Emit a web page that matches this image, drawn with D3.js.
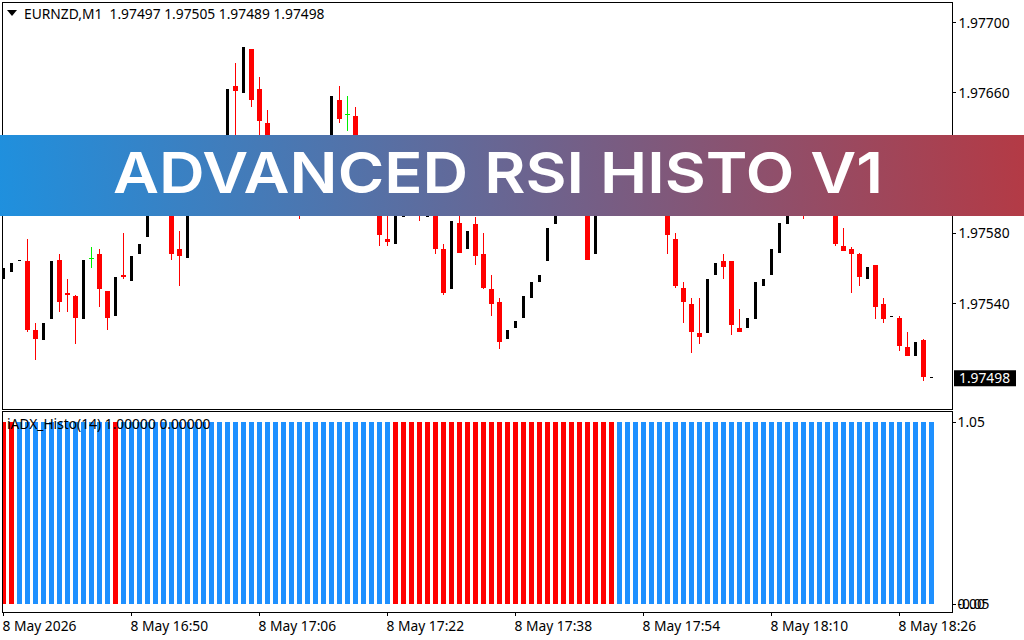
<!DOCTYPE html>
<html>
<head>
<meta charset="utf-8">
<script src="https://d3js.org/d3.v7.min.js"></script>
<style>
html, body { margin: 0; padding: 0; background: #fff; overflow: hidden; }
svg { display: block; }
text { font-family: "Noto Sans", sans-serif; font-size: 13.8px; fill: #000; }
.frame { fill: none; stroke: #000; stroke-width: 1; shape-rendering: crispEdges; }
.axis path { display: none; }
.axis line { stroke: #000; shape-rendering: crispEdges; }
</style>
</head>
<body>
<script>
var title = "ADVANCED RSI HISTO V1";
var header = "EURNZD,M1  1.97497 1.97505 1.97489 1.97498";
var histoName = "iADX_Histo(14) 1.00000 0.00000";
var lastPrice = 1.97498;

var barOpen = [1.97554,1.97558,1.97565,1.97564,1.97525,1.97519,1.97531,1.97565,1.97546,1.97544,
1.97531,1.97566,1.97568,1.97547,1.97533,1.97556,1.97553,1.97568,1.97578,1.97596,
1.97605,1.97599,1.97571,1.97566,1.97596,1.97605,1.97599,1.97613,1.97627,1.97664,
1.97660,1.97685,1.97662,1.97643,1.97627,1.97616,1.97605,1.97599,1.97594,1.97605,
1.97627,1.97619,1.97656,1.97648,1.97647,1.97622,1.97613,1.97599,1.97577,1.97574,
1.97589,1.97605,1.97602,1.97589,1.97602,1.97571,1.97548,1.97586,1.97571,1.97585,
1.97568,1.97548,1.97541,1.97520,1.97526,1.97532,1.97543,1.97552,1.97564,1.97585,
1.97607,1.97624,1.97616,1.97610,1.97568,1.97607,1.97619,1.97627,1.97616,1.97624,
1.97613,1.97607,1.97616,1.97610,1.97577,1.97549,1.97540,1.97523,1.97523,1.97556,
1.97564,1.97564,1.97526,1.97526,1.97531,1.97550,1.97556,1.97569,1.97585,1.97599,
1.97607,1.97605,1.97619,1.97613,1.97605,1.97573,1.97571,1.97568,1.97554,1.97562,
1.97540,1.97533,1.97532,1.97515,1.97510,1.97519,1.97498];

var barHigh = [1.97560,1.97563,1.97565,1.97577,1.97529,1.97529,1.97564,1.97568,1.97554,1.97545,
1.97565,1.97572,1.97571,1.97547,1.97555,1.97580,1.97567,1.97574,1.97596,1.97605,
1.97608,1.97606,1.97581,1.97596,1.97605,1.97610,1.97613,1.97627,1.97662,1.97677,
1.97686,1.97685,1.97669,1.97650,1.97630,1.97619,1.97607,1.97602,1.97605,1.97619,
1.97636,1.97658,1.97664,1.97658,1.97652,1.97630,1.97616,1.97605,1.97596,1.97599,
1.97602,1.97607,1.97607,1.97602,1.97607,1.97574,1.97587,1.97591,1.97581,1.97589,
1.97580,1.97556,1.97543,1.97525,1.97530,1.97544,1.97552,1.97556,1.97583,1.97610,
1.97622,1.97627,1.97619,1.97619,1.97607,1.97619,1.97627,1.97630,1.97624,1.97627,
1.97616,1.97616,1.97619,1.97616,1.97580,1.97552,1.97543,1.97543,1.97554,1.97563,
1.97568,1.97564,1.97537,1.97532,1.97552,1.97554,1.97571,1.97586,1.97602,1.97610,
1.97616,1.97616,1.97622,1.97616,1.97610,1.97583,1.97572,1.97569,1.97561,1.97562,
1.97543,1.97533,1.97533,1.97524,1.97518,1.97520,1.97498];

var barLow = [1.97554,1.97558,1.97565,1.97524,1.97508,1.97519,1.97531,1.97535,1.97535,1.97517,
1.97531,1.97560,1.97538,1.97525,1.97533,1.97554,1.97553,1.97568,1.97578,1.97596,
1.97598,1.97565,1.97550,1.97566,1.97596,1.97595,1.97599,1.97613,1.97627,1.97630,
1.97660,1.97652,1.97633,1.97622,1.97610,1.97599,1.97593,1.97588,1.97594,1.97605,
1.97616,1.97619,1.97643,1.97638,1.97622,1.97599,1.97592,1.97573,1.97573,1.97574,
1.97589,1.97594,1.97587,1.97589,1.97568,1.97545,1.97548,1.97569,1.97571,1.97562,
1.97548,1.97533,1.97514,1.97520,1.97526,1.97532,1.97543,1.97552,1.97564,1.97585,
1.97607,1.97610,1.97599,1.97565,1.97568,1.97607,1.97619,1.97613,1.97616,1.97610,
1.97605,1.97607,1.97607,1.97568,1.97549,1.97529,1.97512,1.97517,1.97523,1.97556,
1.97554,1.97522,1.97524,1.97526,1.97531,1.97550,1.97556,1.97569,1.97585,1.97599,
1.97588,1.97605,1.97605,1.97599,1.97573,1.97570,1.97546,1.97550,1.97554,1.97531,
1.97529,1.97533,1.97513,1.97510,1.97510,1.97496,1.97498];

var barClose = [1.97560,1.97563,1.97565,1.97525,1.97520,1.97529,1.97564,1.97541,1.97545,1.97532,
1.97565,1.97566,1.97548,1.97532,1.97555,1.97555,1.97567,1.97574,1.97596,1.97605,
1.97599,1.97568,1.97567,1.97596,1.97605,1.97599,1.97613,1.97627,1.97662,1.97661,
1.97686,1.97656,1.97644,1.97627,1.97613,1.97602,1.97596,1.97593,1.97605,1.97619,
1.97619,1.97658,1.97645,1.97648,1.97627,1.97602,1.97596,1.97579,1.97575,1.97599,
1.97602,1.97596,1.97593,1.97602,1.97571,1.97546,1.97587,1.97569,1.97581,1.97567,
1.97549,1.97540,1.97518,1.97525,1.97530,1.97544,1.97552,1.97556,1.97583,1.97610,
1.97622,1.97613,1.97602,1.97565,1.97607,1.97619,1.97627,1.97616,1.97624,1.97613,
1.97607,1.97616,1.97610,1.97579,1.97550,1.97541,1.97524,1.97521,1.97554,1.97563,
1.97561,1.97528,1.97524,1.97532,1.97552,1.97554,1.97571,1.97586,1.97602,1.97610,
1.97596,1.97616,1.97607,1.97602,1.97574,1.97570,1.97568,1.97555,1.97561,1.97538,
1.97531,1.97533,1.97516,1.97510,1.97518,1.97498,1.97498];

// bar numbers where the histogram is red, all the others are blue
var histoRedBars = [0,1,14,49,50,51,52,53,54,55,56,57,58,59,60,61,62,63,64,65,66,67,68,69,70,71,72,73,74,75,76];

var priceTicks = [1.977, 1.9766, 1.9758, 1.9754];
var timeTicks = ["16:34","16:50","17:06","17:22","17:38","17:54","18:10","18:26"];
var timeLabels = ["8 May 2026","8 May 16:50","8 May 17:06","8 May 17:22","8 May 17:38","8 May 17:54","8 May 18:10","8 May 18:26"];
var histoTicks = [1, 0];
var histoLabels = ["1.05", "0.00"];
var histoLowLabel = "-0.05";

var parseTime = d3.timeParse("%Y-%m-%d %H:%M");
var firstBar = parseTime("2026-05-08 16:34");
var lastBar = parseTime("2026-05-08 18:30");
var bars = barOpen.map(function(o, i){
    return {
        i: i,
        date: d3.timeMinute.offset(firstBar, i),
        open: o,
        high: barHigh[i],
        low: barLow[i],
        close: barClose[i],
        red: histoRedBars.indexOf(i) >= 0
    };
});

var svg = d3.select('body').append('svg')
        .attr('width', 1024)
        .attr('height', 640);

var x = d3.scaleTime().domain([firstBar, lastBar]).range([3.5, 931.5]);
var y = d3.scaleLinear().domain([1.977, 1.9754]).range([22.5, 303.5]);
var yHisto = d3.scaleLinear().domain([1, 0]).range([422, 604]);

var defs = svg.append('defs');
defs.append('clipPath').attr('id', 'mainClip').append('rect')
    .attr('x', 3).attr('y', 3).attr('width', 949).attr('height', 406);
defs.append('clipPath').attr('id', 'histoClip').append('rect')
    .attr('x', 3).attr('y', 412).attr('width', 949).attr('height', 201);
var grad = defs.append('linearGradient').attr('id', 'bannerGrad')
    .attr('gradientUnits', 'userSpaceOnUse')
    .attr('x1', 0).attr('y1', 215).attr('x2', 1024).attr('y2', 135);
grad.append('stop').attr('offset', '0%').attr('stop-color', '#1f90de');
grad.append('stop').attr('offset', '100%').attr('stop-color', '#b43a45');

// candles
var candles = svg.append('g').attr('clip-path', 'url(#mainClip)')
    .attr('shape-rendering', 'crispEdges');

function barColor(d){
    if (d.close < d.open) return '#ff0000';
    if (d.close === d.open && d.high > d.low) return '#00ee00';
    return '#000';
}

candles.selectAll('.wick').data(bars.filter(function(d){ return d.high > d.low && d.close <= d.open; }))
    .enter().append('rect').attr('class', 'wick')
    .attr('x', function(d){ return x(d.date) - 0.5; })
    .attr('width', 1)
    .attr('y', function(d){ return y(d.high); })
    .attr('height', function(d){ return y(d.low) - y(d.high); })
    .attr('fill', barColor);

candles.selectAll('.body').data(bars)
    .enter().append('rect').attr('class', 'body')
    .attr('x', function(d){ return x(d.date) - (d.close > d.open || d.high === d.low ? 1.5 : 2.5); })
    .attr('width', function(d){ return d.close > d.open || d.high === d.low ? 3 : 5; })
    .attr('y', function(d){ return y(Math.max(d.open, d.close)); })
    .attr('height', function(d){ return Math.max(1, Math.abs(y(d.open) - y(d.close))); })
    .attr('fill', barColor);

// histogram
svg.append('g').attr('clip-path', 'url(#histoClip)')
    .attr('shape-rendering', 'crispEdges')
    .selectAll('rect').data(bars)
    .enter().append('rect')
    .attr('x', function(d){ return x(d.date) - 2.5; })
    .attr('width', 5)
    .attr('y', yHisto(1))
    .attr('height', yHisto(0) - yHisto(1))
    .attr('fill', function(d){ return d.red ? '#ff0000' : '#1e90ff'; });

// panel frames
svg.append('rect').attr('class', 'frame').attr('x', 2.5).attr('y', 2.5).attr('width', 950).attr('height', 407);
svg.append('rect').attr('class', 'frame').attr('x', 2.5).attr('y', 411.5).attr('width', 950).attr('height', 201);

// axes
var yAxis = d3.axisRight(y).tickValues(priceTicks).tickFormat(d3.format('.5f')).tickSize(3).tickPadding(3).offset(0);
var yg = svg.append('g').attr('class', 'axis').attr('transform', 'translate(952.5,0)').call(yAxis);
yg.selectAll('text').attr('y', 0.7);

var histoAxis = d3.axisRight(yHisto).tickValues(histoTicks)
    .tickFormat(function(d, i){ return histoLabels[i]; }).tickSize(3).tickPadding(2).offset(0);
var hg = svg.append('g').attr('class', 'axis').attr('transform', 'translate(952.5,0)').call(histoAxis);
hg.selectAll('text').attr('y', 0.7);
svg.append('text').attr('x', 957.5).attr('y', yHisto(0) + 0.7).attr('dy', '0.32em').text(histoLowLabel);

var xAxis = d3.axisBottom(x)
    .tickValues(timeTicks.map(function(t){ return parseTime("2026-05-08 " + t); }))
    .tickFormat(function(d, i){ return timeLabels[i]; })
    .tickSize(3).tickPadding(6).offset(0);
var xg = svg.append('g').attr('class', 'axis').attr('transform', 'translate(0,612.5)').call(xAxis);
xg.selectAll('text').attr('text-anchor', 'start').attr('dx', -1);

// last price label
svg.append('rect').attr('x', 954).attr('y', y(lastPrice) - 7).attr('width', 62).attr('height', 16).attr('fill', '#000');
svg.append('text').attr('x', 959).attr('y', y(lastPrice) + 0.5).attr('dy', '0.35em').style('fill', '#fff')
    .text(d3.format('.5f')(lastPrice));

// header and indicator name
svg.append('path').attr('d', 'M7,10H17L12,16Z').attr('fill', '#000');
svg.append('text').attr('x', 24).attr('y', 19).attr('xml:space', 'preserve').style('white-space', 'pre').text(header);
svg.append('text').attr('x', 7).attr('y', 429).text(histoName);

// title banner
svg.append('rect').attr('x', 0).attr('y', 135).attr('width', 1024).attr('height', 81).attr('fill', 'url(#bannerGrad)');
svg.append('text').attr('x', 113).attr('y', 193)
    .attr('textLength', 770).attr('lengthAdjust', 'spacingAndGlyphs')
    .style('font-family', 'Inter, sans-serif').style('font-size', '57px').style('font-weight', 600).style('fill', '#fff')
    .text(title);
</script>
</body>
</html>
